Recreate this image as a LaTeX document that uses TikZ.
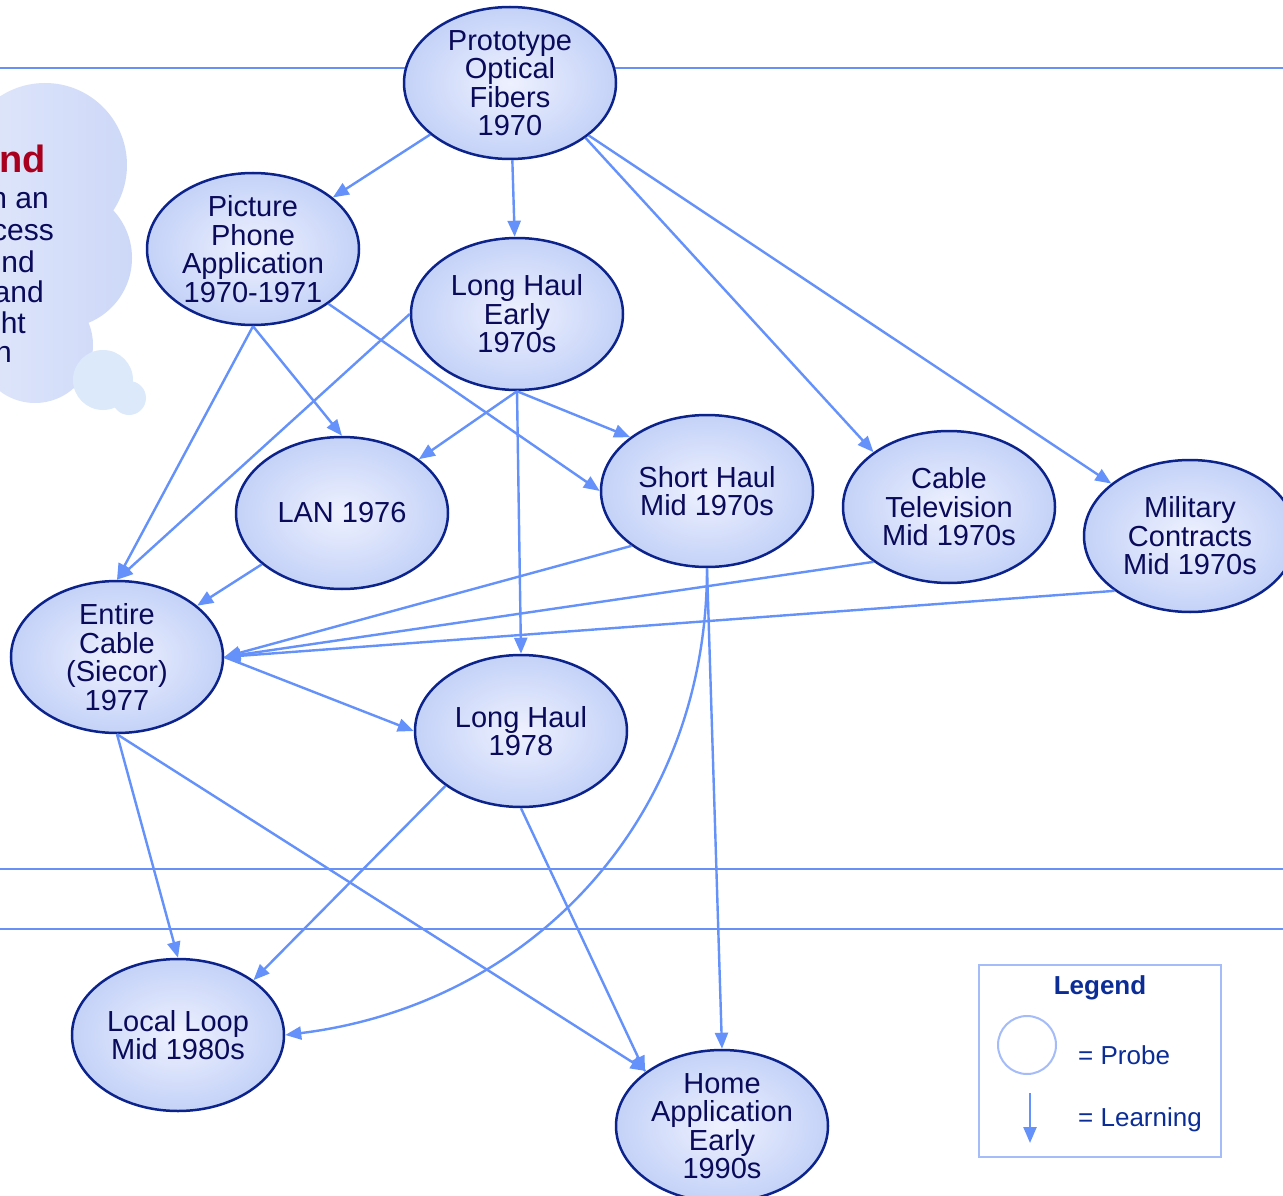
\documentclass[tikz,border=0pt]{standalone}
\usepackage{fontspec}
\setmainfont{Liberation Sans}
\usetikzlibrary{shapes.geometric,arrows.meta}
\definecolor{edgeblue}{RGB}{100,145,250}
\definecolor{hline}{RGB}{105,145,245}
\definecolor{rim}{RGB}{12,35,140}
\definecolor{ink}{RGB}{10,10,90}
\definecolor{fillin}{RGB}{238,241,254}
\definecolor{fillout}{RGB}{196,210,248}
\definecolor{legendblue}{RGB}{12,45,150}
\definecolor{legendrim}{RGB}{165,188,248}
\definecolor{cloudA}{RGB}{238,242,253}
\definecolor{cloudB}{RGB}{205,216,248}
\definecolor{bubble}{RGB}{220,233,251}
\definecolor{titlered}{RGB}{168,0,30}
\begin{document}
\begin{tikzpicture}[x=1pt,y=-1pt,
  probe/.style={ellipse, draw=rim, line width=2.5pt, inner color=fillin, outer color=fillout,
    minimum width=212pt, minimum height=152pt, inner sep=0pt, align=center, text=ink,
    font=\fontsize{29}{28.5}\selectfont},
  learn/.style={draw=edgeblue, line width=2.4pt, -{Triangle[length=16pt,width=13pt]}},
  rulel/.style={draw=hline, line width=2.4pt},
  cloudtxt/.style={anchor=base east, inner sep=0pt, text=ink, font=\fontsize{30}{30}\selectfont},
  legtxt/.style={inner sep=0pt, text=legendblue, font=\fontsize{26}{30}\selectfont}]
\useasboundingbox (0,0) rectangle (1283,1196);
\fill[white] (0,0) rectangle (1283,1196);
% cloud
\shade[left color=cloudA, right color=cloudB]
  (45,165) circle[radius=82] (62,258) circle[radius=70] (35,345) circle[radius=58]
  (-30,260) circle[radius=115];
\fill[bubble] (103,380) circle[radius=30];
\fill[bubble] (129,398) circle[radius=17];
\node[anchor=base east, inner sep=0pt, text=titlered, font=\fontsize{38}{38}\selectfont\bfseries] (ct0) at (46,173) {nd};
\node[cloudtxt] (ct1) at (49,208) {n an};
\node[cloudtxt] (ct2) at (54,240) {cess};
\node[cloudtxt] (ct3) at (35,272) {nd};
\node[cloudtxt] (ct4) at (44,302) {and};
\node[cloudtxt] (ct5) at (26,333) {ht};
\node[cloudtxt] (ct6) at (12,362) {n};
% horizontal rules
\coordinate (r1a) at (0,68); \coordinate (r1b) at (1283,68);
\coordinate (r2a) at (0,869); \coordinate (r2b) at (1283,869);
\coordinate (r3a) at (0,929); \coordinate (r3b) at (1283,929);
\draw[rulel] (r1a) -- (r1b);
\draw[rulel] (r2a) -- (r2b);
\draw[rulel] (r3a) -- (r3b);
% probes
\node[probe] (proto) at (510,83) {Prototype\\Optical\\Fibers\\1970};
\node[probe] (phone) at (253,249) {Picture\\Phone\\Application\\1970-1971};
\node[probe] (lhe) at (517,314) {Long Haul\\Early\\1970s};
\node[probe] (lan) at (342,513) {LAN 1976};
\node[probe] (short) at (707,491) {Short Haul\\Mid 1970s};
\node[probe] (catv) at (949,507) {Cable\\Television\\Mid 1970s};
\node[probe] (mil) at (1190,536) {Military\\Contracts\\Mid 1970s};
\node[probe] (entire) at (117,657) {Entire\\Cable\\(Siecor)\\1977};
\node[probe] (lh78) at (521,731) {Long Haul\\1978};
\node[probe] (loop) at (178,1035) {Local Loop\\Mid 1980s};
\node[probe] (home) at (722,1126) {Home\\Application\\Early\\1990s};
% learning arrows
\draw[learn] (proto) -- (phone);
\draw[learn] (proto) -- (lhe);
\draw[learn] (proto.-36) -- (catv.144);
\draw[learn] (proto) -- (mil);
\draw[learn] (phone.south) -- (lan.north);
\draw[learn] (phone.south) -- (entire.north);
\draw[learn] (phone.-36) -- (short.west);
\draw[learn] (lhe.west) -- (entire.north);
\draw[learn] (lhe.south) -- (lan.35);
\draw[learn] (lhe.south) -- (short.145);
\draw[learn] (lhe.south) -- (lh78.north);
\draw[learn] (lan) -- (entire);
\draw[learn] (short.-144) -- (entire.east);
\draw[learn] (catv.-144) -- (entire.east);
\draw[learn] (mil.-144) -- (entire.east);
\draw[learn] (entire.east) -- (lh78.west);
\draw[learn] (entire.south) -- (loop.north);
\draw[learn] (entire.south) -- (home.144);
\draw[learn] (lh78.-144) -- (loop.36);
\draw[learn] (lh78.south) -- (home.145);
\draw[learn] (short.south) .. controls (707,820) and (530,1005) .. (loop.east);
\draw[learn] (short.south) -- (home.north);
% legend
\node[draw=legendrim, line width=2pt, minimum width=242pt, minimum height=192pt, inner sep=0pt] (legend) at (1100,1061) {};
\node[legtxt, font=\fontsize{26}{30}\selectfont\bfseries] (legtitle) at (1100,988) {Legend};
\node[circle, draw=legendrim, line width=2pt, minimum size=58pt, inner sep=0pt] (legcirc) at (1027,1045) {};
\node[legtxt, anchor=west] (legprobe) at (1078,1055) {= Probe};
\coordinate (legA) at (1030,1093);
\coordinate (legB) at (1030,1143);
\draw[learn] (legA) -- (legB);
\node[legtxt, anchor=west] (leglearn) at (1078,1120) {= Learning};
\end{tikzpicture}
\end{document}
